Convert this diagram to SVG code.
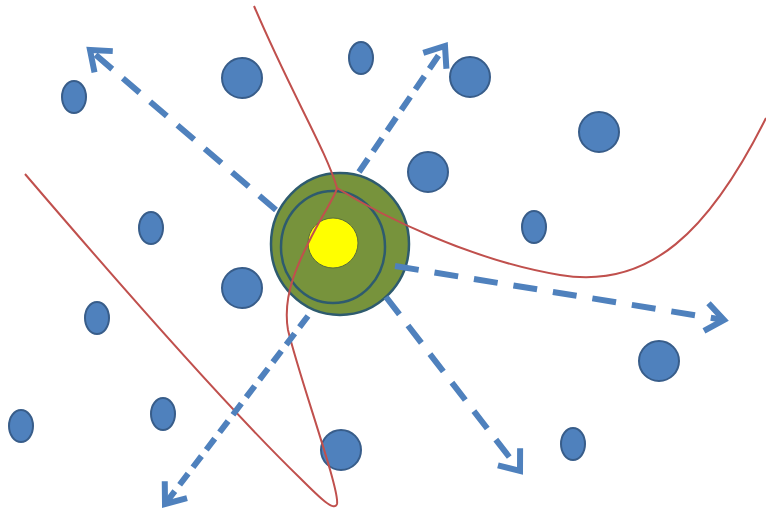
<svg xmlns="http://www.w3.org/2000/svg" width="766" height="514" viewBox="0 0 766 514">
<style>
.dot{fill:#4f81bd;stroke:#385d8a;stroke-width:2}
.curve{fill:none;stroke:#c0504d;stroke-width:2}
.arrow{fill:none;stroke:#4f81bd;stroke-width:6}
.ring{fill:none;stroke:#2e5b6e;stroke-width:2.5}
</style>
<defs>
<marker id="chev" markerUnits="userSpaceOnUse" viewBox="-30 -20 40 40" markerWidth="40" markerHeight="40" refX="0" refY="0" orient="auto">
<path d="M-18,-14 L0,0 L-18,14" fill="none" stroke="#4f81bd" stroke-width="6" stroke-linejoin="miter"/>
</marker>
</defs>
<rect width="766" height="514" fill="#ffffff"/>
<g id="dots">
<ellipse id="d1" class="dot" cx="74" cy="97" rx="12" ry="16"/>
<circle id="d2" class="dot" cx="242" cy="78" r="20"/>
<ellipse id="d3" class="dot" cx="361" cy="58" rx="12" ry="16"/>
<circle id="d4" class="dot" cx="470" cy="77" r="20"/>
<circle id="d5" class="dot" cx="599" cy="132" r="20"/>
<circle id="d6" class="dot" cx="428" cy="172" r="20"/>
<ellipse id="d7" class="dot" cx="151" cy="228" rx="12" ry="16"/>
<ellipse id="d8" class="dot" cx="534" cy="227" rx="12" ry="16"/>
<circle id="d9" class="dot" cx="242" cy="288" r="20"/>
<ellipse id="d10" class="dot" cx="97" cy="318" rx="12" ry="16"/>
<circle id="d11" class="dot" cx="659" cy="361" r="20"/>
<ellipse id="d12" class="dot" cx="163" cy="414" rx="12" ry="16"/>
<ellipse id="d13" class="dot" cx="21" cy="426" rx="12" ry="16"/>
<circle id="d14" class="dot" cx="341" cy="450" r="20"/>
<ellipse id="d15" class="dot" cx="573" cy="444" rx="12" ry="16"/>
</g>
<g id="center">
<ellipse cx="340" cy="244" rx="69" ry="71" fill="#77933c" stroke="#2e5b6e" stroke-width="2.5"/>
<ellipse class="ring" cx="333" cy="247" rx="52" ry="56"/>
<circle cx="333" cy="243" r="25" fill="#ffff00" stroke="#5a6e3a" stroke-width="1"/>
</g>
<g id="curves">
<path class="curve" d="M25,174 C120,285 230,410 300,478 C320,498 334,512 337,504 C340,490 300,380 288,330 C282,295 298,262 316,228 C328,206 336,194 337,188"/>
<path class="curve" d="M337,188 C326,150 292,95 254,6"/>
<path class="curve" d="M337,188 C380,215 470,260 560,275 C650,290 710,230 766,118"/>
</g>
<g id="connectors">
<line class="arrow" stroke-dasharray="22 14" x1="276" y1="210" x2="90" y2="50" marker-end="url(#chev)"/>
<line class="arrow" stroke-dasharray="16 9" x1="359" y1="172" x2="445" y2="46" marker-end="url(#chev)"/>
<line class="arrow" stroke-dasharray="24 16" x1="395" y1="266" x2="724" y2="320" marker-end="url(#chev)"/>
<line class="arrow" stroke-dasharray="22 14" x1="386" y1="297" x2="520" y2="471" marker-end="url(#chev)"/>
<line class="arrow" stroke-dasharray="14 8" x1="308" y1="316" x2="165" y2="504" marker-end="url(#chev)"/>
</g>
</svg>
